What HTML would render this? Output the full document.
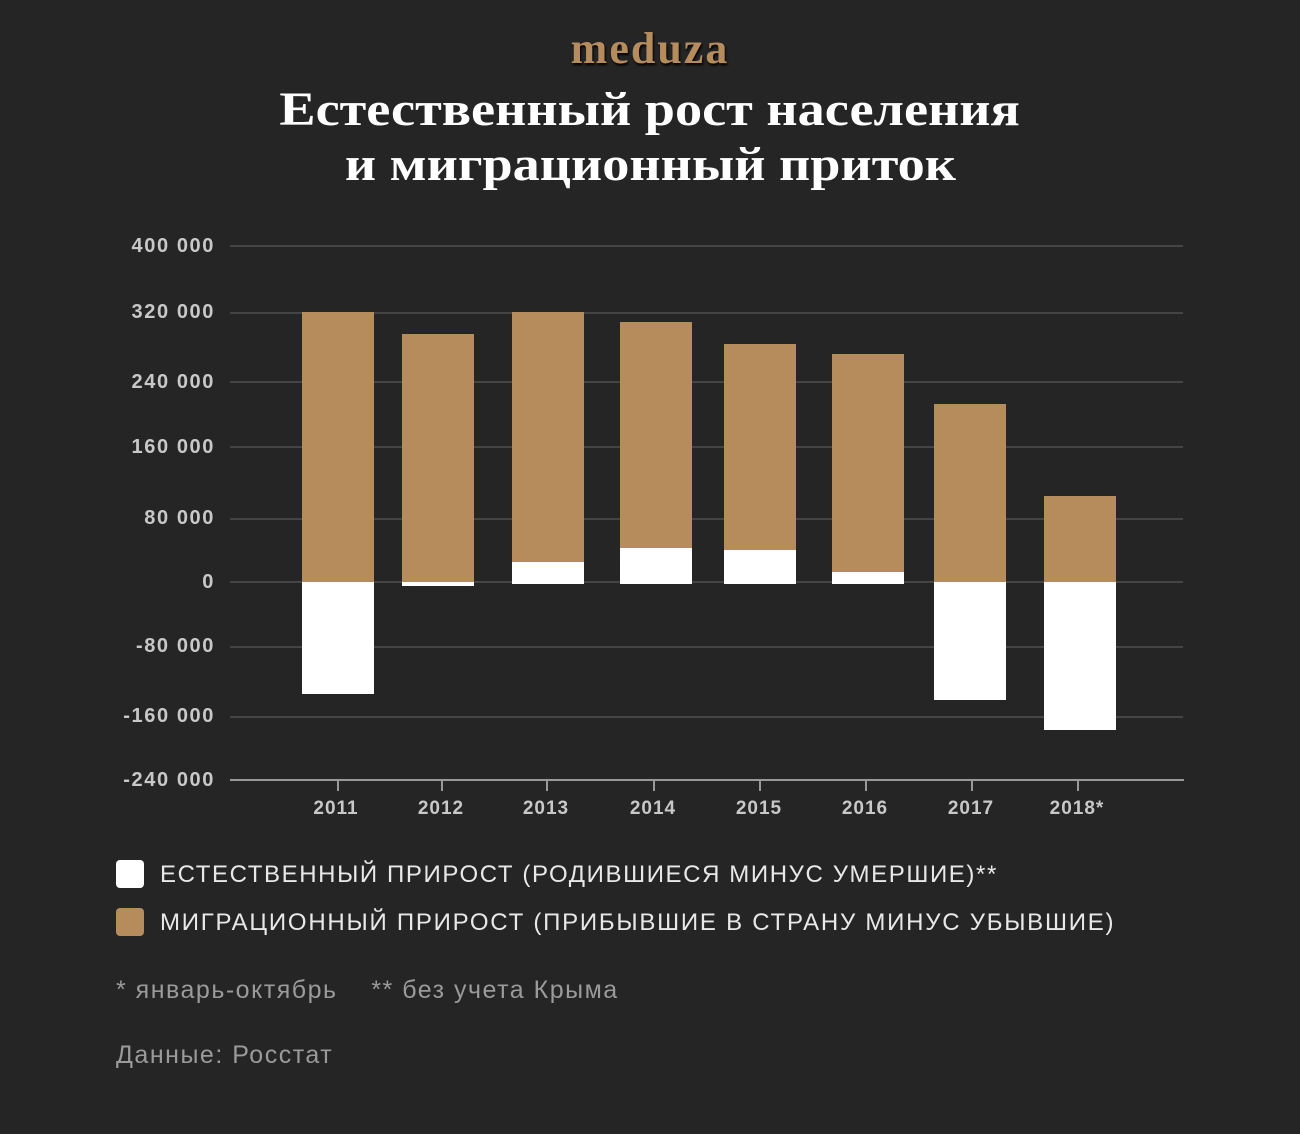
<!DOCTYPE html>
<html><head><meta charset="utf-8"><style>
body{margin:0;width:1300px;height:1134px;background:#252525;position:relative;overflow:hidden;font-family:"Liberation Sans","DejaVu Sans",sans-serif}
.a{position:absolute}
.g{position:absolute;left:230px;width:953px;height:2px;background:#454545}
.yl{position:absolute;right:1085px;color:#c8c8c8;font-weight:bold;font-size:20px;letter-spacing:1.6px;line-height:20px;text-align:right;white-space:nowrap}
.xl{position:absolute;width:100px;margin-left:-50px;text-align:center;color:#c8c8c8;font-weight:bold;font-size:19px;letter-spacing:1px;top:798px}
.b{position:absolute;width:72px;background:#b78c5d}
.w{position:absolute;width:72px;background:#fff}
.tk{position:absolute;top:780px;width:2px;height:11px;background:#999}
.t{display:inline-block;transform:scaleX(1.13)}
</style></head><body>
<div class="a" style="left:0;width:1300px;top:24px;text-align:center;color:#b78c5d;font-family:'Liberation Serif',serif;font-weight:bold;font-size:44px;line-height:50px;letter-spacing:2px;text-shadow:1px 2px 2px #000">meduza</div>
<div class="a" style="left:0;width:1300px;top:82px;text-align:center;color:#fff;font-family:'Liberation Serif',serif;font-weight:bold;font-size:48px;line-height:55px"><span class="t">Естественный рост населения</span><br><span class="t">и миграционный приток</span></div>

<div class="g" style="top:245px"></div><div class="yl" style="top:236px">400 000</div>
<div class="g" style="top:312px"></div><div class="yl" style="top:302px">320 000</div>
<div class="g" style="top:381px"></div><div class="yl" style="top:372px">240 000</div>
<div class="g" style="top:446px"></div><div class="yl" style="top:437px">160 000</div>
<div class="g" style="top:518px"></div><div class="yl" style="top:508px">80 000</div>
<div class="g" style="top:581px"></div><div class="yl" style="top:572px">0</div>
<div class="g" style="top:646px"></div><div class="yl" style="top:636px">-80 000</div>
<div class="g" style="top:716px"></div><div class="yl" style="top:706px">-160 000</div>
<div class="yl" style="top:770px">-240 000</div>
<div class="a" style="left:230px;top:779px;width:954px;height:2px;background:#999"></div>

<div class="b" style="left:302px;top:312px;height:270px"></div><div class="w" style="left:302px;top:582px;height:112px"></div>
<div class="b" style="left:402px;top:334px;height:248px"></div><div class="w" style="left:402px;top:582px;height:4px"></div>
<div class="b" style="left:512px;top:312px;height:250px"></div><div class="w" style="left:512px;top:562px;height:22px"></div>
<div class="b" style="left:620px;top:322px;height:226px"></div><div class="w" style="left:620px;top:548px;height:36px"></div>
<div class="b" style="left:724px;top:344px;height:206px"></div><div class="w" style="left:724px;top:550px;height:34px"></div>
<div class="b" style="left:832px;top:354px;height:218px"></div><div class="w" style="left:832px;top:572px;height:12px"></div>
<div class="b" style="left:934px;top:404px;height:178px"></div><div class="w" style="left:934px;top:582px;height:118px"></div>
<div class="b" style="left:1044px;top:496px;height:86px"></div><div class="w" style="left:1044px;top:582px;height:148px"></div>

<div class="tk" style="left:337px"></div><div class="xl" style="left:336px">2011</div>
<div class="tk" style="left:441px"></div><div class="xl" style="left:441px">2012</div>
<div class="tk" style="left:546px"></div><div class="xl" style="left:546px">2013</div>
<div class="tk" style="left:653px"></div><div class="xl" style="left:653px">2014</div>
<div class="tk" style="left:759px"></div><div class="xl" style="left:759px">2015</div>
<div class="tk" style="left:865px"></div><div class="xl" style="left:865px">2016</div>
<div class="tk" style="left:971px"></div><div class="xl" style="left:971px">2017</div>
<div class="tk" style="left:1077px"></div><div class="xl" style="left:1077px">2018*</div>

<div class="a" style="left:116px;top:860px;width:28px;height:28px;border-radius:4px;background:#fff"></div>
<div class="a" style="left:160px;top:861px;color:#e8e8e8;font-size:24px;line-height:28px;letter-spacing:1.6px;white-space:nowrap">ЕСТЕСТВЕННЫЙ ПРИРОСТ (РОДИВШИЕСЯ МИНУС УМЕРШИЕ)**</div>
<div class="a" style="left:116px;top:908px;width:28px;height:28px;border-radius:4px;background:#b78c5d"></div>
<div class="a" style="left:160px;top:909px;color:#e8e8e8;font-size:24px;line-height:28px;letter-spacing:1.75px;white-space:nowrap">МИГРАЦИОННЫЙ ПРИРОСТ (ПРИБЫВШИЕ В СТРАНУ МИНУС УБЫВШИЕ)</div>
<div class="a" style="left:116px;top:975px;color:#9a9a9a;font-size:25px;line-height:30px;letter-spacing:1.5px;white-space:nowrap">* январь-октябрь&nbsp;&nbsp;&nbsp;&nbsp;** без учета Крыма</div>
<div class="a" style="left:116px;top:1040px;color:#9a9a9a;font-size:25px;line-height:30px;letter-spacing:1.5px;white-space:nowrap">Данные: Росстат</div>
</body></html>
